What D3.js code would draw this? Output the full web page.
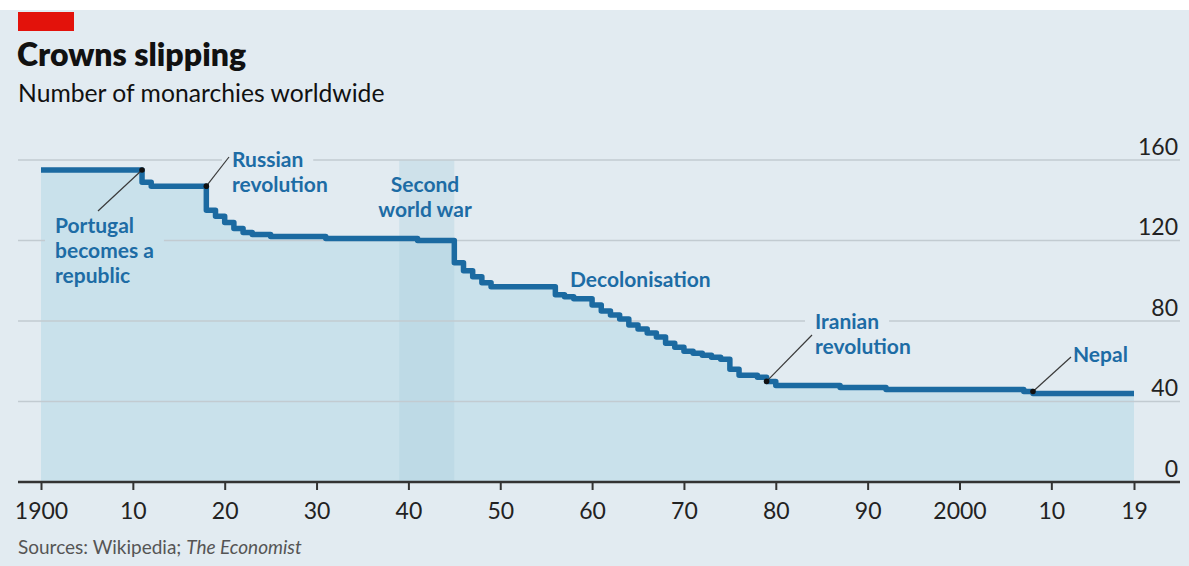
<!DOCTYPE html>
<html>
<head>
<meta charset="utf-8">
<script src="https://cdn.jsdelivr.net/npm/d3@7"></script>
<style>
  body { margin: 0; background: #fff; }
  svg text { font-family: Lato, "Noto Sans", sans-serif; }
</style>
</head>
<body>
<svg id="chart" width="1189" height="566"></svg>
<script>
// number of monarchies, one value per year from 1900 to 2019
var firstYear = 1900;
var monarchies = [
	155, 155, 155, 155, 155, 155, 155, 155, 155, 155,   // 1900s
	155, 149, 147, 147, 147, 147, 147, 147, 135, 132,   // 1910s
	129, 126, 124, 123, 123, 122, 122, 122, 122, 122,   // 1920s
	122, 121, 121, 121, 121, 121, 121, 121, 121, 121,   // 1930s
	121, 120, 120, 120, 120, 109, 105, 102, 99, 97,     // 1940s
	97, 97, 97, 97, 97, 97, 93, 92, 91, 91,             // 1950s
	88, 85, 83, 81, 78, 76, 74, 72, 69, 67,             // 1960s
	65, 64, 63, 62, 61, 56, 53, 53, 52, 50,             // 1970s
	48, 48, 48, 48, 48, 48, 48, 47, 47, 47,             // 1980s
	47, 47, 46, 46, 46, 46, 46, 46, 46, 46,             // 1990s
	46, 46, 46, 46, 46, 46, 46, 45, 44, 44,             // 2000s
	44, 44, 44, 44, 44, 44, 44, 44, 44, 44              // 2010s
];

var tickYears = [1900, 1910, 1920, 1930, 1940, 1950, 1960, 1970, 1980, 1990, 2000, 2010, 2019];
var tickLabels = ['1900', '10', '20', '30', '40', '50', '60', '70', '80', '90', '2000', '10', '19'];
var valueTicks = [0, 40, 80, 120, 160];
var warYears = [1939, 1945];

// events pointed at on the line
var eventNames = [['Portugal', 'becomes a', 'republic'], ['Russian', 'revolution'], ['Iranian', 'revolution'], ['Nepal']];
var eventYears = [1911, 1918, 1979, 2008];
var eventValues = [155, 147, 50, 45];

var title = 'Crowns slipping';
var subtitle = 'Number of monarchies worldwide';

var colors = {
	bg: '#e2ebf1',
	fill: '#c9e1eb',
	band: '#a9cddd',
	line: '#1b6aa1',
	label: '#1d6ca5',
	grid: '#c2cbd1',
	axis: '#333',
	red: '#e3120b'
};

// where each event label sits and where its leader line ends
var eventLayout = [
	{ x: 55, y: 233, lead: [98, 211] },
	{ x: 232, y: 167, lead: [229, 157] },
	{ x: 815, y: 329, lead: [812, 335] },
	{ x: 1073, y: 362, lead: [1071, 357] }
];

var W = 1189, H = 566;
var svg = d3.select( '#chart' );

var data = monarchies.map( function ( v, i ) { return { year: firstYear + i, value: v }; } );

var x = d3.scaleLinear().domain( [ 1900, 2019 ] ).range( [ 41, 1134 ] );
var y = d3.scaleLinear().domain( [ 0, 160 ] ).range( [ 482, 160 ] );

svg.append( 'rect' ).attr( 'width', W ).attr( 'height', H ).attr( 'fill', '#fff' );
svg.append( 'rect' ).attr( 'y', 10 ).attr( 'width', W ).attr( 'height', H - 10 ).attr( 'fill', colors.bg );
svg.append( 'rect' ).attr( 'x', 18 ).attr( 'y', 12 ).attr( 'width', 56 ).attr( 'height', 19 ).attr( 'fill', colors.red );

svg.append( 'text' ).attr( 'x', 17 ).attr( 'y', 66 )
	.style( 'font-size', '32px' ).style( 'font-weight', 800 ).attr( 'fill', '#111' )
	.text( title );
svg.append( 'text' ).attr( 'x', 18 ).attr( 'y', 102 )
	.style( 'font-size', '24.7px' ).attr( 'fill', '#111' )
	.text( subtitle );

// area under the line
var area = d3.area().curve( d3.curveStepAfter )
	.x( function ( d ) { return x( d.year ); } )
	.y0( y( 0 ) )
	.y1( function ( d ) { return y( d.value ); } );
svg.append( 'path' ).datum( data ).attr( 'd', area ).attr( 'fill', colors.fill );

// second world war band
svg.append( 'rect' )
	.attr( 'x', x( warYears[0] ) ).attr( 'y', y( 160 ) )
	.attr( 'width', x( warYears[1] ) - x( warYears[0] ) )
	.attr( 'height', y( 0 ) - y( 160 ) )
	.attr( 'fill', colors.band ).attr( 'opacity', 0.35 );

// gridlines, knocked out behind labels with a mask
var mask = svg.append( 'defs' ).append( 'mask' ).attr( 'id', 'gridMask' )
	.attr( 'maskUnits', 'userSpaceOnUse' )
	.attr( 'x', 0 ).attr( 'y', 0 ).attr( 'width', W ).attr( 'height', H );
mask.append( 'rect' ).attr( 'width', W ).attr( 'height', H ).attr( 'fill', '#fff' );

svg.append( 'g' ).attr( 'mask', 'url(#gridMask)' )
	.selectAll( 'line' )
	.data( valueTicks.filter( function ( d ) { return d > 0; } ) )
	.enter()
	.append( 'line' )
	.attr( 'x1', 18 ).attr( 'x2', 1180 )
	.attr( 'y1', function ( d ) { return y( d ); } )
	.attr( 'y2', function ( d ) { return y( d ); } )
	.attr( 'stroke', colors.grid ).attr( 'stroke-width', 1.6 );

var yAxis = svg.append( 'g' )
	.attr( 'transform', 'translate(1178,0)' )
	.call( d3.axisLeft( y ).tickValues( valueTicks ).tickSize( 0 ).tickPadding( 0 ) );
yAxis.select( '.domain' ).remove();
yAxis.selectAll( '.tick text' )
	.attr( 'x', 0 ).attr( 'dy', -6 ).attr( 'text-anchor', 'end' )
	.style( 'font-size', '23px' ).style( 'font-family', 'Lato, sans-serif' ).attr( 'fill', '#222' );

// the line itself
var line = d3.line().curve( d3.curveStepAfter )
	.x( function ( d ) { return x( d.year ); } )
	.y( function ( d ) { return y( d.value ); } );
svg.append( 'path' ).datum( data ).attr( 'd', line )
	.attr( 'fill', 'none' ).attr( 'stroke', colors.line )
	.attr( 'stroke-width', 5.5 ).attr( 'stroke-linejoin', 'round' );

// x axis
var xAxis = svg.append( 'g' )
	.attr( 'transform', 'translate(0,' + y( 0 ) + ')' )
	.call( d3.axisBottom( x ).tickValues( tickYears )
		.tickFormat( function ( d, i ) { return tickLabels[i]; } ).tickSize( 8 ) );
xAxis.select( '.domain' ).remove();
xAxis.selectAll( '.tick line' ).attr( 'stroke', colors.axis ).attr( 'stroke-width', 2 );
xAxis.selectAll( '.tick text' ).attr( 'y', 37 ).attr( 'dy', 0 )
	.style( 'font-size', '23px' ).style( 'font-family', 'Lato, sans-serif' ).attr( 'fill', '#222' );
xAxis.append( 'line' ).attr( 'x1', 18 ).attr( 'x2', 1180 )
	.attr( 'stroke', colors.axis ).attr( 'stroke-width', 2.5 );

// labels
var labelGroup = svg.append( 'g' ).attr( 'fill', colors.label )
	.style( 'font-size', '21px' ).style( 'font-weight', 700 );

function knockout( node ) {
	var b = node.getBBox();
	mask.append( 'rect' ).attr( 'x', b.x - 10 ).attr( 'y', b.y - 2 )
		.attr( 'width', b.width + 20 ).attr( 'height', b.height + 4 ).attr( 'fill', '#000' );
}

eventNames.forEach( function ( lines, i ) {
	var lay = eventLayout[i];
	var px = x( eventYears[i] ), py = y( eventValues[i] );
	svg.append( 'line' )
		.attr( 'x1', px ).attr( 'y1', py ).attr( 'x2', lay.lead[0] ).attr( 'y2', lay.lead[1] )
		.attr( 'stroke', '#3a3a3a' ).attr( 'stroke-width', 1.2 );
	svg.append( 'circle' ).attr( 'cx', px ).attr( 'cy', py ).attr( 'r', 2.8 ).attr( 'fill', '#111' );
	lines.forEach( function ( t, j ) {
		var el = labelGroup.append( 'text' ).attr( 'x', lay.x ).attr( 'y', lay.y + j * 25 ).text( t );
		knockout( el.node() );
	} );
} );

var plainLabels = [
	{ lines: [ 'Second', 'world war' ], x: 425, y: 192, anchor: 'middle' },
	{ lines: [ 'Decolonisation' ], x: 570, y: 287, anchor: 'start' }
];
plainLabels.forEach( function ( p ) {
	p.lines.forEach( function ( t, j ) {
		var el = labelGroup.append( 'text' ).attr( 'x', p.x ).attr( 'y', p.y + j * 25 )
			.attr( 'text-anchor', p.anchor ).text( t );
		knockout( el.node() );
	} );
} );

// source line
var src = svg.append( 'text' ).attr( 'x', 18 ).attr( 'y', 554 )
	.style( 'font-size', '19px' ).attr( 'fill', '#555' );
src.append( 'tspan' ).text( 'Sources: Wikipedia; ' );
src.append( 'tspan' ).style( 'font-style', 'italic' ).text( 'The Economist' );
</script>
</body>
</html>
